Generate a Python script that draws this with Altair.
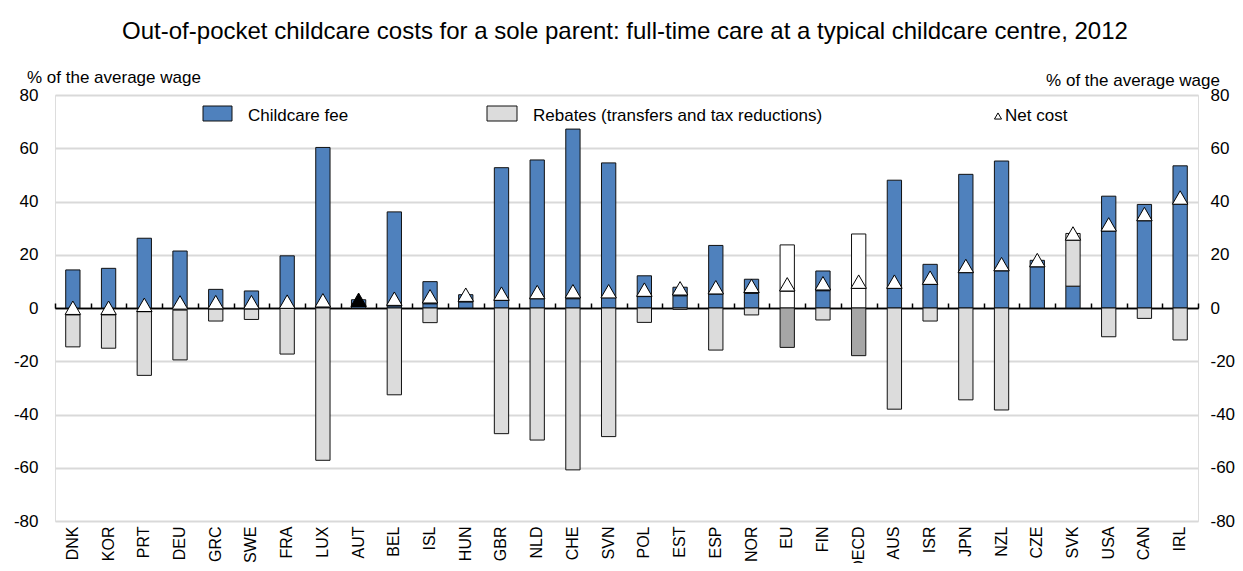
import altair as alt
import pandas as pd

countries = ["DNK", "KOR", "PRT", "DEU", "GRC", "SWE", "FRA", "LUX", "AUT", "BEL", "ISL", "HUN",
             "GBR", "NLD", "CHE", "SVN", "POL", "EST", "ESP", "NOR", "EU", "FIN", "OECD", "AUS",
             "ISR", "JPN", "NZL", "CZE", "SVK", "USA", "CAN", "IRL"]
fee = [14.3, 14.9, 26.2, 21.4, 7.0, 6.4, 19.6, 60.3, 3.1, 36.1, 9.9, 5.0,
       52.7, 55.6, 67.2, 54.5, 12.1, 7.8, 23.5, 10.8, 23.7, 13.9, 27.8, 48.0,
       16.4, 50.2, 55.2, 17.9, 8.2, 42.0, 38.9, 53.4]
rebate_end = [-14.6, -15.1, -25.3, -19.5, -4.9, -4.3, -17.3, -57.2, 0, -32.6, -5.5, 0,
              -47.2, -49.6, -60.8, -48.3, -5.4, -0.5, -15.8, -2.6, -14.8, -4.5, -17.9, -38.0,
              -4.9, -34.5, -38.3, 0, 0, -10.8, -3.9, -12.0]
rebate_top = [0, 0, 0, 0, 0, 0, 0, 0, 0, 0, 0, 0,
              0, 0, 0, 0, 0, 0, 0, 0, 0, 0, 0, 0,
              0, 0, 0, 0, 28.0, 0, 0, 0]
split = [-2.6, -2.6, -1.4, -0.8, -0.4, -0.4, -0.1, 0.4, 0.6, 0.8, 1.6, 2.3,
         2.9, 3.5, 3.5, 3.9, 4.3, 4.6, 5.3, 5.5, 6.4, 6.5, 7.4, 7.4,
         8.9, 13.3, 14.0, 15.5, 25.5, 29.0, 32.8, 39.0]
net = [0.1, 0.1, 1.2, 2.1, 2.2, 2.2, 2.4, 2.9, 3.1, 3.5, 4.4, 5.0,
       5.4, 6.0, 6.3, 6.3, 6.9, 7.4, 7.8, 8.3, 8.9, 9.3, 9.9, 9.9,
       11.4, 15.8, 16.5, 18.0, 28.0, 31.4, 35.3, 41.5]
averages = ["EU", "OECD"]
highlight = ["AUT"]

title_text = "Out-of-pocket childcare costs for a sole parent: full-time care at a typical childcare centre, 2012"
unit_text = "% of the average wage"
legend_labels = ["Childcare fee", "Rebates (transfers and tax reductions)", "Net cost"]

FONT = "Liberation Sans, Arial"

# ---- build segments
rows = []
for i, c in enumerate(countries):
    avg = c in averages
    fk = "fee_avg" if avg else "fee"
    rk = "reb_avg" if avg else "reb"
    f, r, s, t = fee[i], rebate_end[i], split[i], rebate_top[i]
    if 0 < s < f:
        rows.append((c, 0, s, fk))
        rows.append((c, s, f, fk))
    else:
        rows.append((c, 0, f, fk))
    if r < 0:
        rows.append((c, min(s, 0), r, rk))
    if t > f:
        if f < s < t:
            rows.append((c, f, s, rk))
            rows.append((c, s, t, rk))
        else:
            rows.append((c, f, t, rk))
seg = pd.DataFrame(rows, columns=["country", "y0", "y1", "kind"])
pts = pd.DataFrame({"country": countries, "net": net,
                    "mk": ["hi" if c in highlight else "norm" for c in countries]})

W, H = 1143, 426
xscale = alt.Scale(paddingInner=0, paddingOuter=0)
yscale = alt.Scale(domain=[-80, 80], nice=False, zero=False)
yvals = list(range(-80, 81, 20))
label_expr = "'' + datum.value"

bars = alt.Chart(seg).mark_bar(width=alt.RelativeBandSize(0.4), stroke="#111111", strokeWidth=1).encode(
    x=alt.X("country:N", sort=countries, scale=xscale,
            axis=alt.Axis(orient="bottom", labelAngle=-90, labelFontSize=16, labelFont=FONT,
                          labelColor="black", domain=False, ticks=False, grid=False,
                          labelPadding=5, title=None)),
    y=alt.Y("y0:Q", scale=yscale,
            axis=alt.Axis(orient="left", values=yvals, labelFontSize=17, labelFont=FONT,
                          labelColor="black", domain=False, ticks=False, labelPadding=17,
                          labelExpr=label_expr,
                          grid=True,
                          gridColor={"condition": {"test": "datum.value === 0", "value": "black"},
                                     "value": "#d9d9d9"},
                          gridWidth={"condition": {"test": "datum.value === 0", "value": 1.5},
                                     "value": 2},
                          title=None)),
    y2="y1:Q",
    fill=alt.Fill("kind:N", scale=alt.Scale(domain=["fee", "reb", "fee_avg", "reb_avg"],
                                            range=["#4f81bd", "#dcdcdc", "#ffffff", "#a6a6a6"]),
                  legend=None),
)

points = alt.Chart(pts).mark_point(shape="triangle-up", filled=True, size=240, stroke="black",
                                   strokeWidth=1, opacity=1).encode(
    x=alt.X("country:N", sort=countries, scale=xscale,
            axis=alt.Axis(orient="top", offset=-H / 2, tickBand="extent", labels=False,
                          domain=True, domainColor="black", domainWidth=1.5,
                          ticks=True, tickColor="black", tickWidth=1.5, tickSize=5,
                          grid=False, title=None)),
    y=alt.Y("net:Q", scale=yscale,
            axis=alt.Axis(orient="right", values=yvals, labelFontSize=17, labelFont=FONT,
                          labelColor="black", domain=False, ticks=False, labelPadding=12,
                          labelExpr=label_expr, grid=False, title=None)),
    fill=alt.Fill("mk:N", scale=alt.Scale(domain=["norm", "hi"], range=["white", "black"]),
                  legend=None),
)

one = pd.DataFrame({"a": [0]})

title = alt.Chart(pd.DataFrame({"t": [title_text]})).mark_text(
    font=FONT, fontSize=24, align="center", baseline="alphabetic", color="black").encode(
    text="t:N", x=alt.value(570), y=alt.value(-56))

unit_l = alt.Chart(pd.DataFrame({"t": [unit_text]})).mark_text(
    font=FONT, fontSize=17, align="left", baseline="alphabetic", color="black").encode(
    text="t:N", x=alt.value(-28), y=alt.value(-12))
unit_r = alt.Chart(pd.DataFrame({"t": [unit_text]})).mark_text(
    font=FONT, fontSize=17, align="right", baseline="alphabetic", color="black").encode(
    text="t:N", x=alt.value(1165), y=alt.value(-9))

box1 = alt.Chart(one).mark_rect(fill="#4f81bd", stroke="#111111", strokeWidth=1).encode(
    x=alt.value(148), x2=alt.value(177), y=alt.value(11), y2=alt.value(26))
box2 = alt.Chart(one).mark_rect(fill="#dcdcdc", stroke="#111111", strokeWidth=1).encode(
    x=alt.value(432), x2=alt.value(462), y=alt.value(11), y2=alt.value(26))
tri = alt.Chart(one).mark_point(shape="triangle-up", filled=True, fill="white", stroke="black",
                                strokeWidth=1, size=50, opacity=1).encode(
    x=alt.value(943), y=alt.value(21))
leg1 = alt.Chart(pd.DataFrame({"t": [legend_labels[0]]})).mark_text(
    font=FONT, fontSize=17, align="left", baseline="alphabetic", color="black").encode(
    text="t:N", x=alt.value(193), y=alt.value(26))
leg2 = alt.Chart(pd.DataFrame({"t": [legend_labels[1]]})).mark_text(
    font=FONT, fontSize=17, align="left", baseline="alphabetic", color="black").encode(
    text="t:N", x=alt.value(478), y=alt.value(26))
leg3 = alt.Chart(pd.DataFrame({"t": [legend_labels[2]]})).mark_text(
    font=FONT, fontSize=17, align="left", baseline="alphabetic", color="black").encode(
    text="t:N", x=alt.value(950), y=alt.value(26))

chart = alt.layer(bars, points, title, unit_l, unit_r, box1, box2, tri, leg1, leg2, leg3).resolve_axis(
    x="independent", y="independent"
).resolve_scale(
    fill="independent"
).properties(
    width=W, height=H,
    autosize=alt.AutoSizeParams(type="none"),
    padding={"left": 47, "top": 87, "right": 37, "bottom": 42},
).configure_view(stroke=None).configure(background="white")

chart.save("out.html", embed_options={"renderer": "svg", "actions": False})
